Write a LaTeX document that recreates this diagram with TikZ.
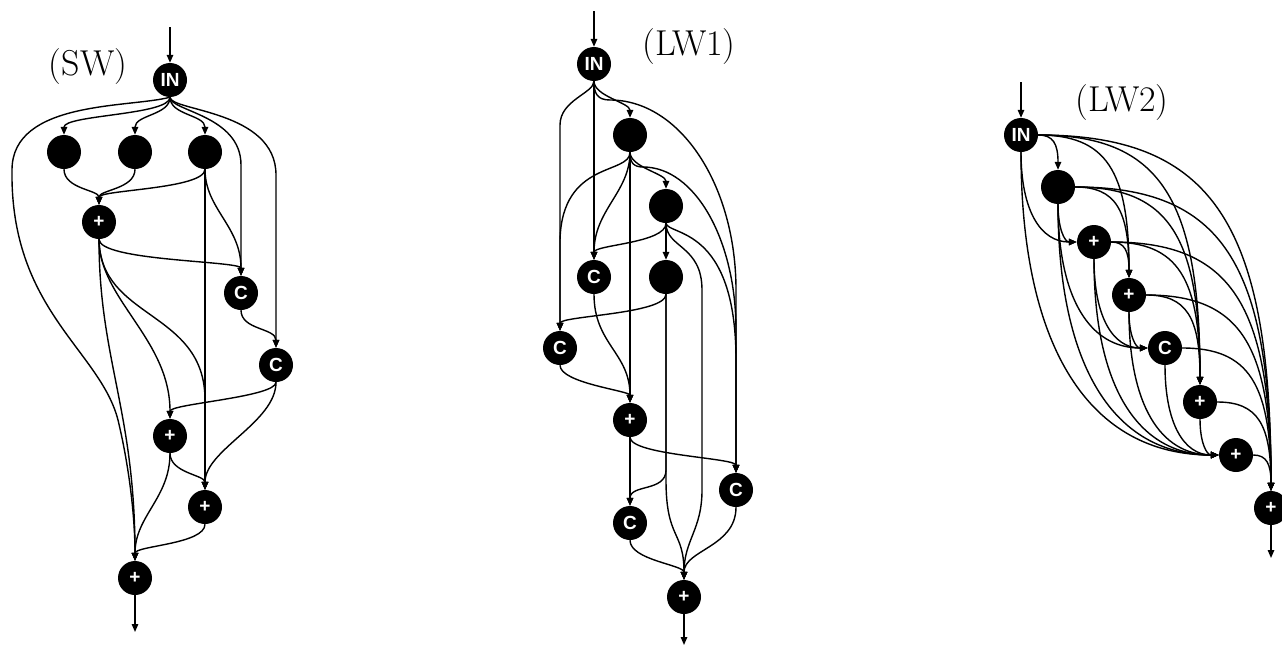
\documentclass[tikz,border=0pt]{standalone}
\usepackage{fontspec}
\newfontfamily\nodefont{Liberation Sans}
\usetikzlibrary{arrows.meta,calc}
\tikzset{
  nd/.style={circle, fill=black, minimum size=34pt, inner sep=0pt, text=white,
    font=\nodefont\bfseries\fontsize{19}{19}\selectfont},
  e/.style={line width=1.4pt, -{Triangle[length=8pt,width=6.5pt]}},
  lab/.style={font=\fontsize{36}{40}\selectfont},
}
\newcommand\edgeEN[2]{\draw[e] let \p1=(#1.east), \p2=(#2.north) in (\p1) .. controls ({\x1+0.75*(\x2-\x1)},\y1) and (\x2,{\y2+0.75*(\y1-\y2)}) .. (\p2);}
\newcommand\edgeSW[2]{\draw[e] let \p1=(#1.south), \p2=(#2.west) in (\p1) .. controls (\x1,{\y1+0.65*(\y2-\y1)}) and ({\x2+0.65*(\x1-\x2)},\y2) .. (\p2);}
\begin{document}
\begin{tikzpicture}[x=1pt,y=-1pt]
\useasboundingbox (0,0) rectangle (1282,645);
% ================= SW =================
\node[lab] (labSW) at (88,67) {(SW)};
\coordinate (inS) at (170,27);
\coordinate (outS) at (135,632);
\node[nd] (IN) at (170,80) {IN};
\node[nd] (A1) at (64,152) {};
\node[nd] (A2) at (135,152) {};
\node[nd] (A3) at (205,152) {};
\node[nd] (P1) at (99,222) {+};
\node[nd] (C1) at (241,293) {C};
\node[nd] (C2) at (276,365) {C};
\node[nd] (P2) at (170,436) {+};
\node[nd] (P3) at (205,507) {+};
\node[nd] (P4) at (135,578) {+};
\draw[e] (inS) -- (IN);
\draw[e] (IN.south) .. controls +(0,18) and +(0,-20) .. (A1.north);
\draw[e] (IN.south) .. controls +(0,18) and +(0,-20) .. (A2.north);
\draw[e] (IN.south) .. controls +(0,18) and +(0,-20) .. (A3.north);
\draw[e] (IN.south) .. controls +(0,14) and +(0,-50) .. (241,165) -- (C1.north);
\draw[e] (IN.south) .. controls +(0,14) and +(0,-65) .. (276,175) -- (C2.north);
\draw[e] (IN.south) .. controls (130,108) and (12,100) .. (12,170) .. controls (10,310) and (100,350) .. (118,420) .. controls (130,470) and (135,520) .. (P4.north);
\draw[e] (A1.south) .. controls +(0,20) and +(0,-15) .. (P1.north);
\draw[e] (A2.south) .. controls +(0,20) and +(0,-15) .. (P1.north);
\draw[e] (A3.south) .. controls +(0,20) and +(0,-15) .. (P1.north);
\draw[e] (A3.south) -- (P3.north);
\draw[e] (A3.south) .. controls +(0,40) and +(0,-50) .. (C1.north);
\draw[e] (P1.south) .. controls +(0,22) and +(0,-15) .. (C1.north);
\draw[e] (P1.south) .. controls +(0,120) and +(0,-150) .. (P4.north);
\draw[e] (P1.south) .. controls +(0,60) and +(0,-80) .. (P2.north);
\draw[e] (P1.south) .. controls (100,320) and (205,310) .. (205,400) -- (P3.north);
\draw[e] (C1.south) .. controls +(0,20) and +(0,-20) .. (C2.north);
\draw[e] (C2.south) .. controls +(0,15) and +(0,-15) .. (P2.north);
\draw[e] (C2.south) .. controls +(0,40) and +(0,-40) .. (P3.north);
\draw[e] (P2.south) .. controls +(0,20) and +(0,-15) .. (P3.north);
\draw[e] (P2.south) .. controls +(0,45) and +(0,-45) .. (P4.north);
\draw[e] (P3.south) .. controls +(0,20) and +(0,-15) .. (P4.north);
\draw[e] (P4) -- (outS);
% ================= LW1 =================
\node[lab] (labL1) at (689,47) {(LW1)};
\coordinate (inL1) at (594,11);
\coordinate (outL1) at (684,645);
\node[nd] (IN1) at (594,64) {IN};
\node[nd] (B1) at (630,135) {};
\node[nd] (B2) at (666,206) {};
\node[nd] (K1) at (594,277) {C};
\node[nd] (B3) at (666,277) {};
\node[nd] (K2) at (560,348) {C};
\node[nd] (R1) at (630,420) {+};
\node[nd] (K3) at (736,490) {C};
\node[nd] (K4) at (630,523) {C};
\node[nd] (R2) at (684,597) {+};
\draw[e] (inL1) -- (IN1);
\draw[e] (IN1.south) .. controls +(0,15) and +(0,-15) .. (B1.north);
\draw[e] (IN1.south) .. controls +(0,12) and +(0,-25) .. (560,125) -- (K2.north);
\draw[e] (IN1.south) -- (K1.north);
\draw[e] (IN1.south) .. controls +(0,12) and (597,100) .. (610,100) .. controls (680,100) and (736,185) .. (736,290) -- (K3.north);
\draw[e] (B1.south) .. controls +(0,15) and +(0,-15) .. (B2.north);
\draw[e] (B1.south) .. controls (630,175) and (562,160) .. (560,240) -- (K2.north);
\draw[e] (B1.south) .. controls +(0,40) and +(0,-50) .. (K1.north);
\draw[e] (B1.south) -- (R1.north);
\draw[e] (B1.south) .. controls +(0,10) and (633,167) .. (643,167) .. controls (695,167) and (736,240) .. (736,330) -- (K3.north);
\draw[e] (B2.south) -- (B3.north);
\draw[e] (B2.south) .. controls +(0,20) and +(0,-15) .. (K1.north);
\draw[e] (B2.south) .. controls +(0,25) and (702,245) .. (702,290) -- (702,490) .. controls (702,530) and (684,540) .. (R2.north);
\draw[e] (B2.south) .. controls (668,236) and (736,225) .. (736,360) -- (K3.north);
\draw[e] (B3.south) .. controls +(0,20) and +(0,-15) .. (K2.north);
\draw[e] (B3.south) -- (666,470) .. controls (666,492) and (630,484) .. (K4.north);
\draw[e] (B3.south) -- (666,480) .. controls (666,540) and (684,530) .. (R2.north);
\draw[e] (K1.south) .. controls +(0,50) and +(0,-50) .. (R1.north);
\draw[e] (K2.south) .. controls +(0,18) and +(0,-12) .. (R1.north);
\draw[e] (R1.south) .. controls +(0,18) and +(0,-15) .. (K3.north);
\draw[e] (R1.south) -- (K4.north);
\draw[e] (K3.south) .. controls +(0,40) and +(0,-30) .. (R2.north);
\draw[e] (K4.south) .. controls +(0,20) and +(0,-15) .. (R2.north);
\draw[e] (R2) -- (outL1);
% ================= LW2 =================
\node[lab] (labL2) at (1122,103) {(LW2)};
\coordinate (inL2) at (1021,82);
\coordinate (outL2) at (1271,558);
\node[nd] (IN2) at (1021,135) {IN};
\node[nd] (D1) at (1058,187) {};
\node[nd] (Q1) at (1094,242) {+};
\node[nd] (Q2) at (1129,295) {+};
\node[nd] (Cq) at (1165,348) {C};
\node[nd] (Q3) at (1200,402) {+};
\node[nd] (Q4) at (1236,455) {+};
\node[nd] (Q5) at (1271,508) {+};
\draw[e] (inL2) -- (IN2);
\draw[e] (Q5) -- (outL2);
\edgeEN{IN2}{D1}
\edgeEN{IN2}{Q2}
\edgeEN{IN2}{Q3}
\edgeEN{IN2}{Q5}
\edgeEN{D1}{Q2}
\edgeEN{D1}{Q3}
\edgeEN{D1}{Q5}
\edgeEN{Q1}{Q2}
\edgeEN{Q1}{Q3}
\edgeEN{Q1}{Q5}
\edgeEN{Q2}{Q3}
\edgeEN{Q2}{Q5}
\edgeEN{Cq}{Q5}
\edgeEN{Q3}{Q5}
\edgeEN{Q4}{Q5}
\edgeSW{IN2}{Q1}
\edgeSW{IN2}{Q4}
\edgeSW{D1}{Q1}
\edgeSW{D1}{Cq}
\edgeSW{D1}{Q4}
\edgeSW{Q1}{Cq}
\edgeSW{Q1}{Q4}
\edgeSW{Q2}{Cq}
\edgeSW{Q2}{Q4}
\edgeSW{Cq}{Q4}
\edgeSW{Q3}{Q4}
\end{tikzpicture}
\end{document}
